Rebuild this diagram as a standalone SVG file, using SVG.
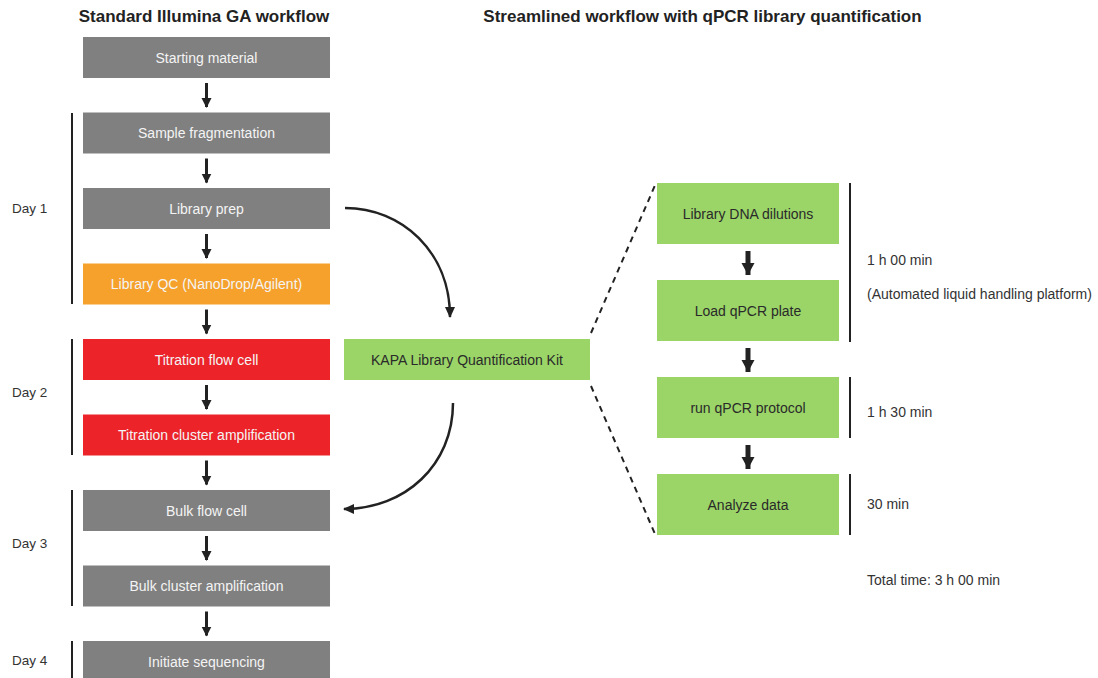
<svg xmlns="http://www.w3.org/2000/svg" width="1098" height="678" viewBox="0 0 1098 678">
<style>
  .title{font-family:"Liberation Sans",Arial,sans-serif;font-size:17px;font-weight:bold;fill:#222;text-anchor:middle}
  .bt{font-family:"Liberation Sans",Arial,sans-serif;font-size:14px;text-anchor:middle}
  .light{fill:#f4f4f4}
  .dark{fill:#2a2a2a}
  .lbl{font-family:"Liberation Sans",Arial,sans-serif;font-size:14px;fill:#333}
  .day{font-family:"Liberation Sans",Arial,sans-serif;font-size:13.5px;fill:#333}
  .gray{fill:#808080}
  .orange{fill:#F5A12B}
  .red{fill:#EC2329}
  .green{fill:#9BD568}
  .bar{stroke:#222;stroke-width:2;fill:none}
  .sa{stroke:#222;stroke-width:3;fill:none}
  .ba{stroke:#222;stroke-width:5;fill:none}
  .curve{stroke:#222;stroke-width:2.5;fill:none}
  .dash{stroke:#222;stroke-width:2;stroke-dasharray:6,5;fill:none}
</style>
<defs>
  <marker id="hs" markerUnits="userSpaceOnUse" markerWidth="10" markerHeight="12" refX="9" refY="5" orient="auto">
    <path d="M0,0 L10,5 L0,10 Z" fill="#222"/>
  </marker>
  <marker id="hb" markerUnits="userSpaceOnUse" markerWidth="14" markerHeight="14" refX="12" refY="6.5" orient="auto">
    <path d="M0,0 L12,6.5 L0,13 Z" fill="#222"/>
  </marker>
  <marker id="hc" markerUnits="userSpaceOnUse" markerWidth="12" markerHeight="12" refX="10" refY="5" orient="auto">
    <path d="M0,0 L11,5 L0,10 Z" fill="#222"/>
  </marker>
</defs>

<text class="title" x="204" y="22">Standard Illumina GA workflow</text>
<text class="title" x="702.5" y="22">Streamlined workflow with qPCR library quantification</text>

<!-- Day labels and bars -->
<g id="days">
  <text class="day" x="12" y="213">Day 1</text>
  <line class="bar" x1="72" y1="113" x2="72" y2="304"/>
  <text class="day" x="12" y="397">Day 2</text>
  <line class="bar" x1="72" y1="339" x2="72" y2="455"/>
  <text class="day" x="12" y="548">Day 3</text>
  <line class="bar" x1="72" y1="490" x2="72" y2="606"/>
  <text class="day" x="12" y="665">Day 4</text>
  <line class="bar" x1="72" y1="641" x2="72" y2="678"/>
</g>

<g id="n-start"><rect class="gray" x="83" y="37" width="247" height="41"/><text class="bt light" x="206.5" y="62.5">Starting material</text></g>
<g id="n-frag"><rect class="gray" x="83" y="112.5" width="247" height="41"/><text class="bt light" x="206.5" y="138">Sample fragmentation</text></g>
<g id="n-libprep"><rect class="gray" x="83" y="188" width="247" height="41"/><text class="bt light" x="206.5" y="213.5">Library prep</text></g>
<g id="n-libqc"><rect class="orange" x="83" y="263.5" width="247" height="41"/><text class="bt light" x="206.5" y="289">Library QC (NanoDrop/Agilent)</text></g>
<g id="n-titfc"><rect class="red" x="83" y="339" width="247" height="41"/><text class="bt light" x="206.5" y="364.5">Titration flow cell</text></g>
<g id="n-titamp"><rect class="red" x="83" y="414.5" width="247" height="41"/><text class="bt light" x="206.5" y="440">Titration cluster amplification</text></g>
<g id="n-bulkfc"><rect class="gray" x="83" y="490" width="247" height="41"/><text class="bt light" x="206.5" y="515.5">Bulk flow cell</text></g>
<g id="n-bulkamp"><rect class="gray" x="83" y="565.5" width="247" height="41"/><text class="bt light" x="206.5" y="591">Bulk cluster amplification</text></g>
<g id="n-seq"><rect class="gray" x="83" y="641" width="247" height="41"/><text class="bt light" x="206.5" y="666.5">Initiate sequencing</text></g>

<g id="n-kapa"><rect class="green" x="344" y="339" width="246" height="41"/><text class="bt dark" x="467" y="364.5">KAPA Library Quantification Kit</text></g>

<g id="n-dil"><rect class="green" x="657" y="183" width="182" height="61"/><text class="bt dark" x="748" y="218.5">Library DNA dilutions</text></g>
<g id="n-load"><rect class="green" x="657" y="280" width="182" height="61"/><text class="bt dark" x="748" y="315.5">Load qPCR plate</text></g>
<g id="n-run"><rect class="green" x="657" y="377" width="182" height="61"/><text class="bt dark" x="748" y="412.5">run qPCR protocol</text></g>
<g id="n-analyze"><rect class="green" x="657" y="474" width="182" height="61"/><text class="bt dark" x="748" y="509.5">Analyze data</text></g>

<g id="times">
  <line class="bar" x1="850" y1="183" x2="850" y2="342"/>
  <line class="bar" x1="850" y1="377" x2="850" y2="438"/>
  <line class="bar" x1="850" y1="474" x2="850" y2="535"/>
  <text class="lbl" x="867" y="265">1 h 00 min</text>
  <text class="lbl" x="867" y="299">(Automated liquid handling platform)</text>
  <text class="lbl" x="867" y="416.5">1 h 30 min</text>
  <text class="lbl" x="867" y="508.5">30 min</text>
  <text class="lbl" x="867" y="584.5">Total time: 3 h 00 min</text>
</g>

<g id="connectors">
  <line class="sa" x1="206.5" y1="83" x2="206.5" y2="107" marker-end="url(#hs)"/>
  <line class="sa" x1="206.5" y1="158.5" x2="206.5" y2="182.5" marker-end="url(#hs)"/>
  <line class="sa" x1="206.5" y1="234" x2="206.5" y2="258" marker-end="url(#hs)"/>
  <line class="sa" x1="206.5" y1="309.5" x2="206.5" y2="333.5" marker-end="url(#hs)"/>
  <line class="sa" x1="206.5" y1="385" x2="206.5" y2="409" marker-end="url(#hs)"/>
  <line class="sa" x1="206.5" y1="460.5" x2="206.5" y2="484.5" marker-end="url(#hs)"/>
  <line class="sa" x1="206.5" y1="536" x2="206.5" y2="560" marker-end="url(#hs)"/>
  <line class="sa" x1="206.5" y1="611.5" x2="206.5" y2="635.5" marker-end="url(#hs)"/>

  <line class="ba" x1="748" y1="251" x2="748" y2="275" marker-end="url(#hb)"/>
  <line class="ba" x1="748" y1="348" x2="748" y2="372" marker-end="url(#hb)"/>
  <line class="ba" x1="748" y1="445" x2="748" y2="469" marker-end="url(#hb)"/>

  <path class="curve" d="M345,208 C402,208 450,252 450,317" marker-end="url(#hc)"/>
  <path class="curve" d="M453,403 C453,465 405,509 344,509" marker-end="url(#hc)"/>

  <line class="dash" x1="591" y1="333" x2="656" y2="183"/>
  <line class="dash" x1="591" y1="386" x2="655" y2="534"/>
</g>
</svg>
